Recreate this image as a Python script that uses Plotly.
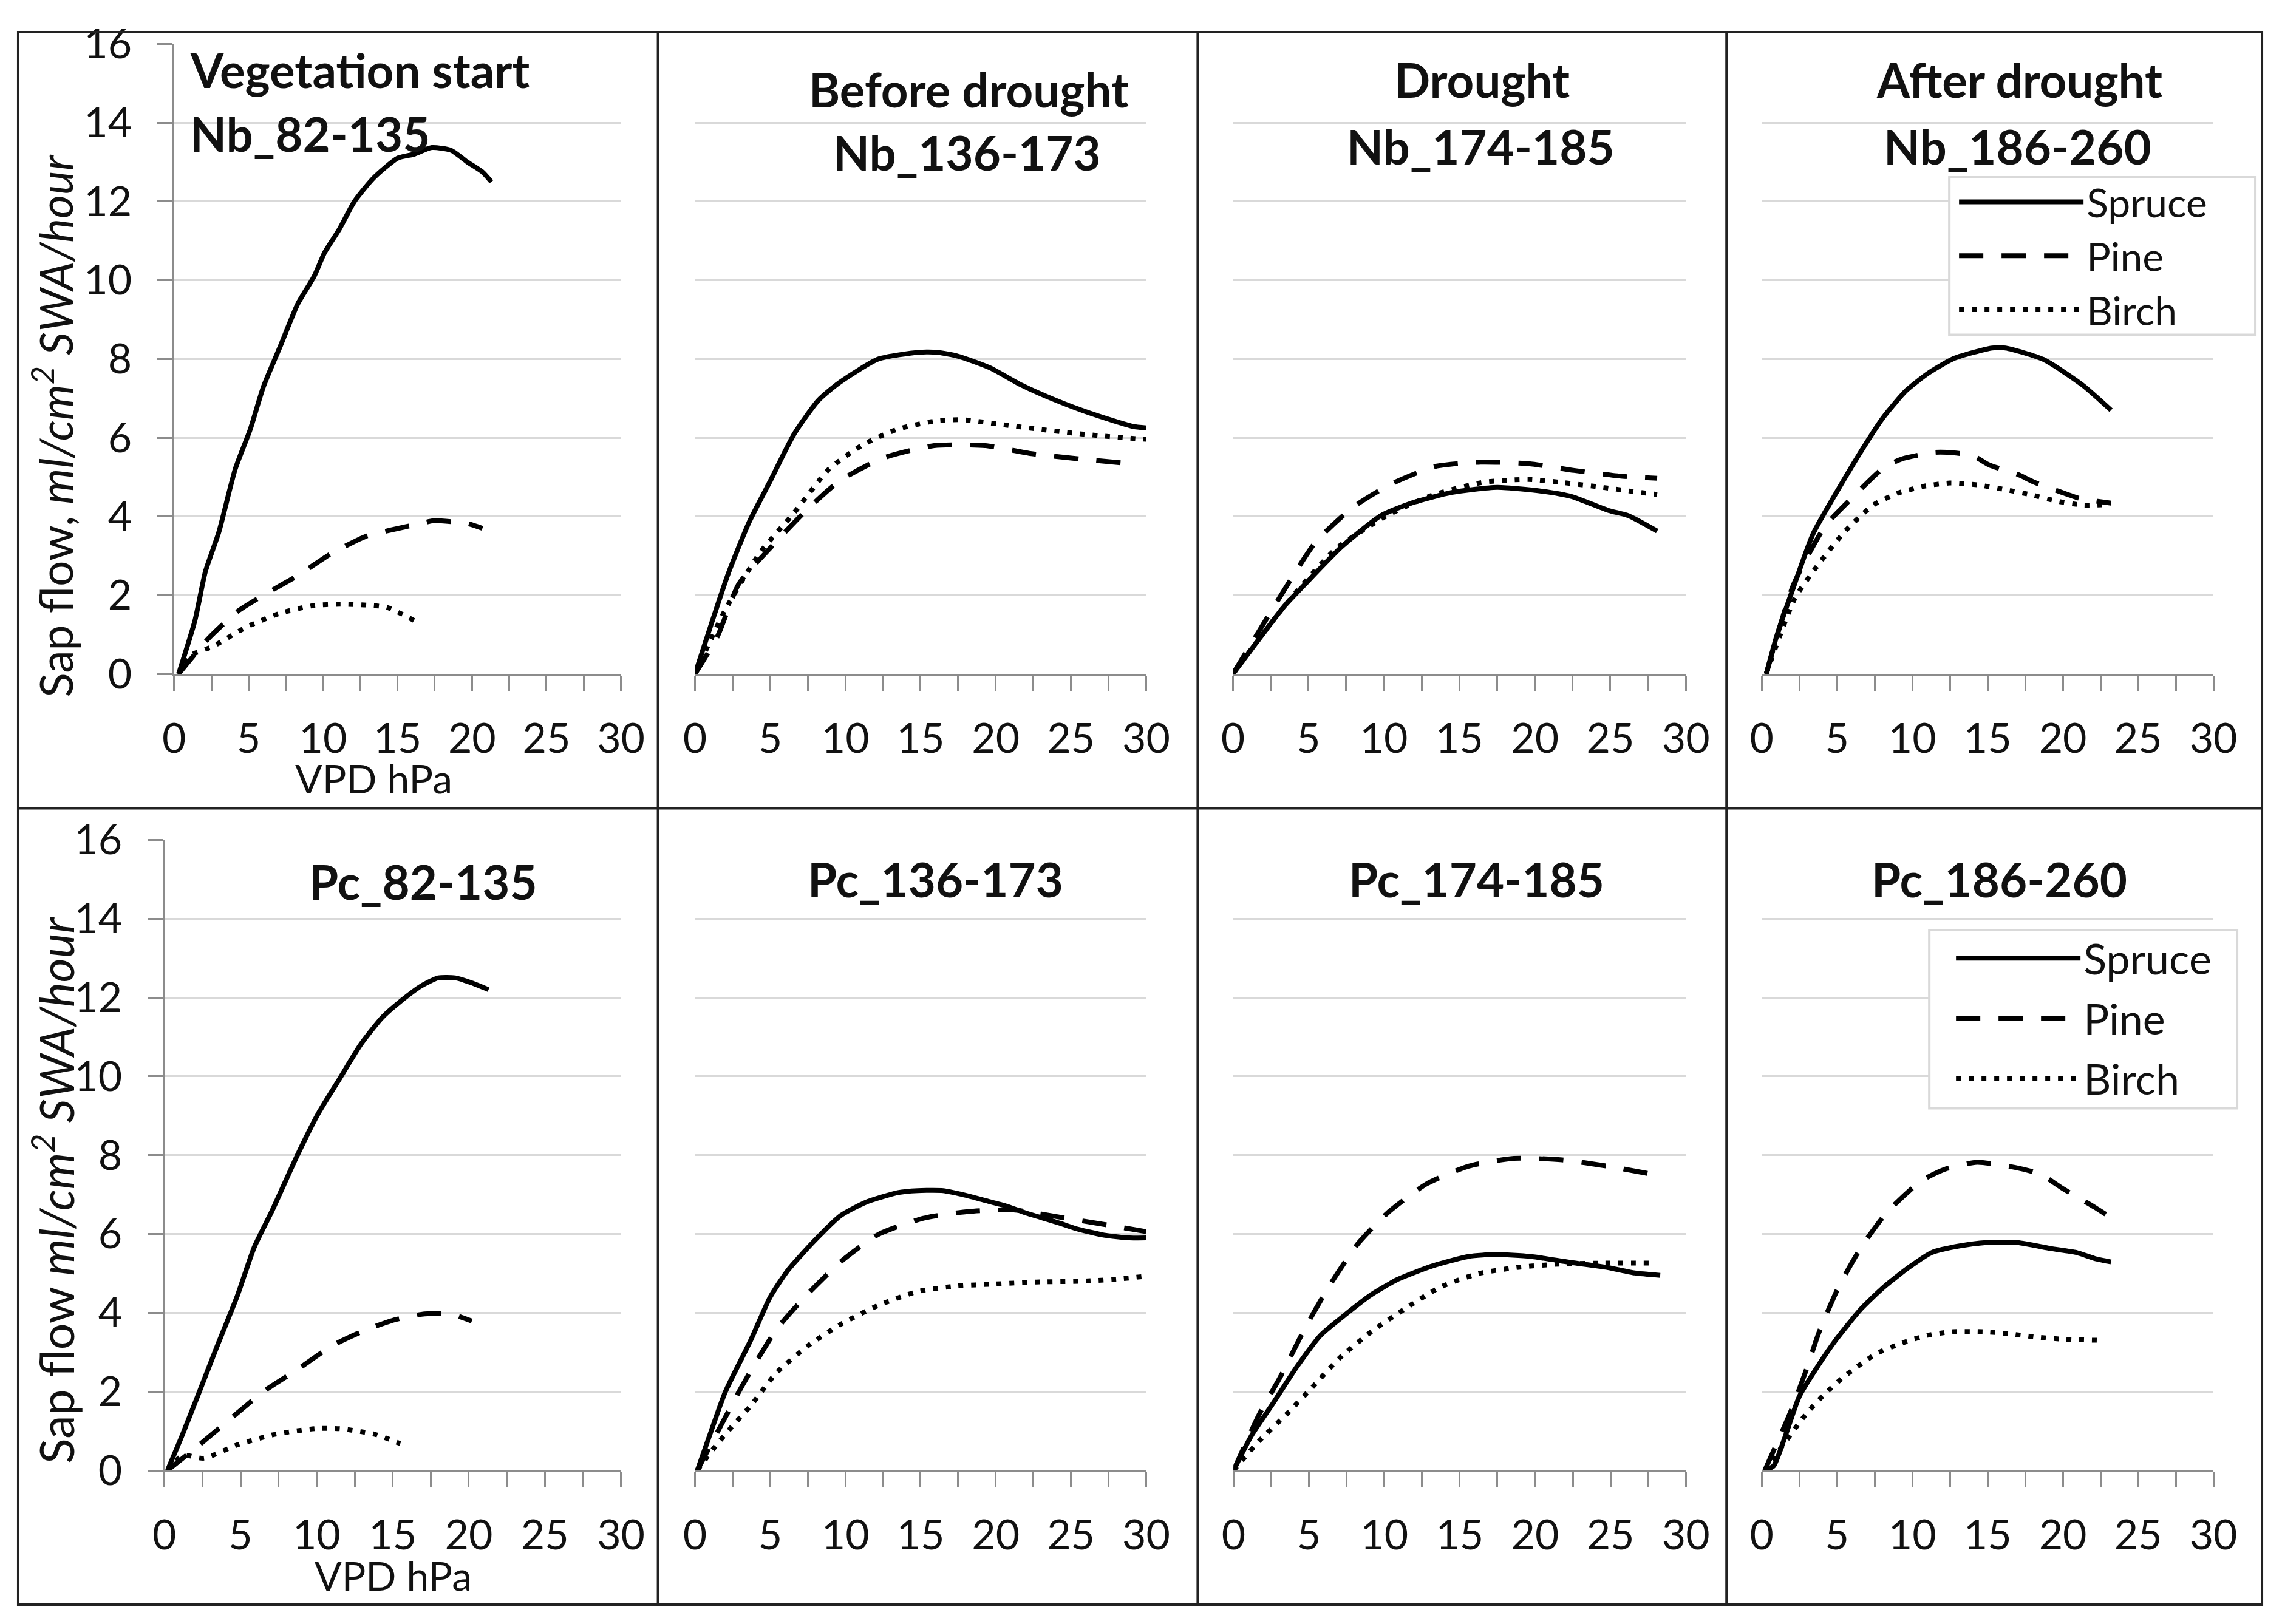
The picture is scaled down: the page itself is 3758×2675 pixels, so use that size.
import plotly.graph_objects as go
from plotly.subplots import make_subplots

W, H = 3758, 2675

# ---------------- data (VPD hPa, sap flow) ----------------
# Panel 1: Nb_82-135 (Vegetation start)
nb1_spruce_x = [0.3, 1.4, 2.1, 3.0, 4.1, 5.1, 6.0, 7.1, 8.3, 9.4, 10.1, 11.1, 12.1, 13.4, 15.0, 16.1, 17.3, 18.6, 19.7, 20.7, 21.3]
nb1_spruce_y = [0, 1.36, 2.6, 3.6, 5.2, 6.2, 7.3, 8.3, 9.4, 10.1, 10.7, 11.3, 12.0, 12.6, 13.1, 13.2, 13.37, 13.3, 13.0, 12.75, 12.5]
nb1_pine_x = [0.3, 2.3, 4.3, 6.0, 8.3, 10.6, 12.9, 14.6, 16.3, 17.4, 18.9, 19.7, 20.7]
nb1_pine_y = [0, 0.9, 1.6, 2.0, 2.5, 3.07, 3.5, 3.66, 3.8, 3.89, 3.86, 3.82, 3.7]
nb1_birch_x = [0.3, 0.9, 2.6, 4.9, 7.1, 9.4, 11.1, 12.9, 14.3, 16.1]
nb1_birch_y = [0, 0.43, 0.7, 1.2, 1.54, 1.74, 1.77, 1.75, 1.69, 1.36]

# Panel 2: Nb_136-173 (Before drought)
nb2_spruce_x = [0, 1.04, 2.2, 3.6, 5.0, 6.6, 8.2, 9.6, 12.2, 14.9, 16.1, 17.5, 19.6, 21.7, 24.0, 26.3, 29.1, 30.0]
nb2_spruce_y = [0, 1.22, 2.54, 3.86, 4.9, 6.1, 6.95, 7.4, 8.0, 8.17, 8.17, 8.07, 7.78, 7.34, 6.95, 6.62, 6.29, 6.25]
nb2_pine_x = [0, 1.5, 2.9, 5.0, 7.3, 9.6, 12.4, 15.9, 19.3, 22.3, 25.6, 29.3]
nb2_pine_y = [0, 0.96, 2.28, 3.2, 4.12, 4.9, 5.47, 5.8, 5.8, 5.6, 5.46, 5.33]
nb2_birch_x = [0, 2.0, 4.3, 6.6, 8.9, 11.2, 13.5, 15.9, 17.7, 20.5, 22.8, 25.1, 27.5, 30.0]
nb2_birch_y = [0, 1.62, 3.07, 4.1, 5.2, 5.83, 6.22, 6.42, 6.46, 6.33, 6.22, 6.12, 6.03, 5.96]

# Panel 3: Nb_174-185 (Drought)
nb3_spruce_x = [0, 1.7, 3.4, 4.7, 7.2, 9.8, 11.9, 14.5, 17.5, 20.5, 22.4, 24.9, 26.2, 28.1]
nb3_spruce_y = [0, 0.87, 1.72, 2.25, 3.23, 4.02, 4.35, 4.61, 4.74, 4.64, 4.51, 4.15, 4.02, 3.63]
nb3_pine_x = [0, 1.7, 3.8, 5.5, 7.9, 10.4, 13.4, 16.4, 19.6, 22.6, 25.8, 28.1]
nb3_pine_y = [0, 1.07, 2.38, 3.36, 4.22, 4.81, 5.27, 5.38, 5.34, 5.17, 5.02, 4.97]
nb3_birch_x = [0, 3.4, 6.8, 10.2, 13.2, 16.6, 19.6, 21.9, 24.5, 26.4, 28.1]
nb3_birch_y = [0, 1.72, 3.17, 4.02, 4.54, 4.87, 4.94, 4.86, 4.74, 4.64, 4.56]

# Panel 4: Nb_186-260 (After drought)
nb4_spruce_x = [0.3, 1.0, 2.1, 3.4, 5.1, 6.8, 8.1, 9.6, 11.1, 12.8, 15.3, 16.2, 18.7, 21.3, 23.2]
nb4_spruce_y = [0, 0.97, 2.19, 3.55, 4.7, 5.78, 6.53, 7.2, 7.65, 8.02, 8.28, 8.28, 7.99, 7.34, 6.7]
nb4_pine_x = [0.3, 2.1, 4.2, 5.7, 8.1, 9.3, 11.5, 12.3, 14.0, 15.1, 17.0, 18.1, 19.8, 21.1, 23.2]
nb4_pine_y = [0, 2.26, 3.75, 4.36, 5.24, 5.46, 5.63, 5.63, 5.55, 5.31, 5.07, 4.87, 4.63, 4.46, 4.34]
nb4_birch_x = [0.3, 2.2, 3.8, 5.5, 7.4, 9.1, 10.8, 12.5, 14.4, 16.2, 17.9, 19.6, 21.3, 23.0]
nb4_birch_y = [0, 1.92, 2.8, 3.61, 4.29, 4.6, 4.77, 4.85, 4.8, 4.68, 4.55, 4.39, 4.29, 4.3]

# Panel 5: Pc_82-135
pc1_spruce_x = [0.2, 1.2, 2.3, 3.4, 4.8, 5.9, 7.1, 8.7, 10.1, 11.5, 12.9, 14.3, 15.5, 16.9, 18.0, 19.1, 20.2, 21.3]
pc1_spruce_y = [0, 0.92, 2.0, 3.09, 4.44, 5.66, 6.61, 7.97, 9.05, 9.93, 10.81, 11.49, 11.9, 12.3, 12.5, 12.5, 12.37, 12.2]
pc1_pine_x = [0.2, 2.3, 4.8, 6.5, 8.7, 11.0, 13.2, 15.2, 17.1, 18.8, 20.2]
pc1_pine_y = [0, 0.65, 1.46, 2.0, 2.55, 3.16, 3.56, 3.83, 3.97, 3.97, 3.79]
pc1_birch_x = [0.2, 1.2, 2.6, 4.8, 7.3, 9.9, 11.5, 13.8, 15.5]
pc1_birch_y = [0, 0.38, 0.31, 0.65, 0.92, 1.06, 1.06, 0.92, 0.68]

# Panel 6: Pc_136-173
pc2_spruce_x = [0.15, 0.9, 2.0, 3.7, 5.0, 6.2, 8.0, 9.7, 11.4, 13.5, 14.8, 16.5, 17.8, 19.3, 20.6, 22.1, 24.2, 25.3, 27.2, 28.9, 30.0]
pc2_spruce_y = [0, 0.81, 1.98, 3.3, 4.4, 5.09, 5.85, 6.47, 6.81, 7.05, 7.1, 7.1, 7.0, 6.85, 6.72, 6.52, 6.28, 6.14, 5.97, 5.9, 5.9]
pc2_pine_x = [0.15, 1.75, 3.2, 5.4, 7.3, 9.7, 12.2, 15.2, 18.2, 21.2, 24.2, 27.4, 30.0]
pc2_pine_y = [0, 1.16, 2.19, 3.57, 4.4, 5.3, 5.99, 6.4, 6.57, 6.61, 6.43, 6.23, 6.06]
pc2_birch_x = [0.15, 1.2, 2.4, 3.7, 5.4, 7.5, 9.7, 12.2, 14.8, 17.4, 19.9, 22.7, 25.5, 28.0, 29.8]
pc2_birch_y = [0, 0.54, 1.09, 1.64, 2.47, 3.16, 3.71, 4.19, 4.54, 4.68, 4.73, 4.78, 4.8, 4.85, 4.92]

# Panel 7: Pc_174-185
pc3_spruce_x = [0, 1.2, 2.6, 4.2, 5.8, 7.5, 9.1, 10.9, 13.2, 15.6, 17.4, 19.7, 22.3, 24.8, 26.6, 28.3]
pc3_spruce_y = [0, 0.89, 1.69, 2.63, 3.44, 3.98, 4.45, 4.85, 5.19, 5.43, 5.48, 5.43, 5.28, 5.15, 5.01, 4.95]
pc3_pine_x = [0, 1.7, 3.1, 4.7, 6.3, 8.2, 10.2, 12.8, 15.6, 18.6, 21.8, 24.8, 28.0]
pc3_pine_y = [0, 1.42, 2.37, 3.58, 4.65, 5.73, 6.53, 7.27, 7.72, 7.92, 7.88, 7.72, 7.5]
pc3_birch_x = [0, 1.7, 3.5, 5.2, 7.0, 9.1, 11.4, 13.7, 16.2, 18.8, 21.3, 24.3, 27.6]
pc3_birch_y = [0, 0.75, 1.42, 2.1, 2.84, 3.51, 4.11, 4.65, 4.99, 5.15, 5.23, 5.26, 5.26]

# Panel 8: Pc_186-260
pc4_spruce_x = [0.2, 0.8, 1.5, 2.5, 3.8, 4.9, 6.6, 8.1, 9.8, 11.3, 13.2, 14.9, 17.0, 19.2, 20.9, 22.1, 23.2]
pc4_spruce_y = [0, 0.12, 0.8, 1.88, 2.69, 3.3, 4.1, 4.65, 5.16, 5.53, 5.7, 5.78, 5.78, 5.63, 5.53, 5.38, 5.29]
pc4_pine_x = [0.2, 1.9, 2.9, 3.8, 5.1, 6.6, 8.3, 10.6, 12.3, 14.3, 16.8, 18.5, 20.0, 22.1, 23.2]
pc4_pine_y = [0, 1.47, 2.49, 3.5, 4.65, 5.66, 6.54, 7.35, 7.66, 7.82, 7.69, 7.52, 7.15, 6.68, 6.41]
pc4_birch_x = [0.2, 2.9, 4.1, 5.5, 7.6, 9.3, 11.0, 12.7, 14.7, 16.4, 18.1, 20.0, 22.6]
pc4_birch_y = [0, 1.41, 1.91, 2.39, 2.96, 3.23, 3.43, 3.52, 3.52, 3.47, 3.39, 3.33, 3.3]

species = ["Spruce", "Pine", "Birch"]
panel_titles = [
    ["Vegetation start", "Nb_82-135"],
    ["Before drought", "Nb_136-173"],
    ["Drought", "Nb_174-185"],
    ["After drought", "Nb_186-260"],
    ["Pc_82-135"],
    ["Pc_136-173"],
    ["Pc_174-185"],
    ["Pc_186-260"],
]
x_ticks = [0, 5, 10, 15, 20, 25, 30]
y_ticks = [0, 2, 4, 6, 8, 10, 12, 14, 16]
x_label = "VPD hPa"
y_label_top = "Sap flow, <i>ml/cm<sup>2</sup> SWA/hour</i>"
y_label_bottom = "Sap flow <i>ml/cm<sup>2</sup> SWA/hour</i>"

panels = [
    [(nb1_spruce_x, nb1_spruce_y), (nb1_pine_x, nb1_pine_y), (nb1_birch_x, nb1_birch_y)],
    [(nb2_spruce_x, nb2_spruce_y), (nb2_pine_x, nb2_pine_y), (nb2_birch_x, nb2_birch_y)],
    [(nb3_spruce_x, nb3_spruce_y), (nb3_pine_x, nb3_pine_y), (nb3_birch_x, nb3_birch_y)],
    [(nb4_spruce_x, nb4_spruce_y), (nb4_pine_x, nb4_pine_y), (nb4_birch_x, nb4_birch_y)],
    [(pc1_spruce_x, pc1_spruce_y), (pc1_pine_x, pc1_pine_y), (pc1_birch_x, pc1_birch_y)],
    [(pc2_spruce_x, pc2_spruce_y), (pc2_pine_x, pc2_pine_y), (pc2_birch_x, pc2_birch_y)],
    [(pc3_spruce_x, pc3_spruce_y), (pc3_pine_x, pc3_pine_y), (pc3_birch_x, pc3_birch_y)],
    [(pc4_spruce_x, pc4_spruce_y), (pc4_pine_x, pc4_pine_y), (pc4_birch_x, pc4_birch_y)],
]

# ---------------- styling ----------------
FONT = "Lato"
LW = 8
dash_styles = ["solid", "40px,30px", "8px,13px"]
GRID = "#d9d9d9"
AXIS = "#8c8c8c"
TXT = "#111111"

# placement helpers: target pixel position -> paper fraction (with small framing correction)
def fx(v):
    return min(max((v - 29.2) / 0.9845, 2), W - 2) / W

def fy(v):
    return 1 - min(max((v - 48.4) / 0.972, 2), H - 2) / H

fig = make_subplots(rows=2, cols=4)

for p, series in enumerate(panels):
    r, c = p // 4 + 1, p % 4 + 1
    for s, (xs, ys) in enumerate(series):
        kw = dict(showlegend=False)
        if p == 3:
            kw = dict(showlegend=True, legend="legend")
        elif p == 7:
            kw = dict(showlegend=True, legend="legend2", legendgroup=f"b{s}")
        fig.add_trace(go.Scatter(
            x=xs, y=ys, mode="lines", name=species[s],
            line=dict(color="black", width=LW, dash=dash_styles[s], shape="spline", smoothing=0.6),
            **kw), row=r, col=c)

col_top = [(288, 1024), (1146, 1889), (2032, 2778), (2903, 3647)]
col_bot = [(272, 1024), (1146, 1889), (2033, 2778), (2903, 3647)]
row_px = [(70, 1110), (1384, 2425)]

for p in range(8):
    r, c = p // 4, p % 4
    cols = col_top if r == 0 else col_bot
    x0, x1 = cols[c]
    y0, y1 = row_px[r]
    ax = "" if p == 0 else str(p + 1)
    fig.layout["xaxis" + ax].update(
        domain=[fx(x0), fx(x1)], range=[0, 30], tickvals=x_ticks,
        showgrid=False, zeroline=False, showline=True, linecolor=AXIS, linewidth=3,
        ticks="outside", ticklen=25, tickwidth=3, tickcolor=AXIS,
        minor=dict(dtick=2.5, tick0=0, ticks="outside", ticklen=25, tickwidth=3, tickcolor=AXIS, showgrid=False),
        tickfont=dict(family=FONT, size=68, color=TXT), ticklabelstandoff=20,
        fixedrange=True)
    first = (c == 0)
    fig.layout["yaxis" + ax].update(
        domain=[fy(y1), fy(y0)], range=[0, 16], tickvals=y_ticks,
        showgrid=True, gridcolor=GRID, gridwidth=3, zeroline=False,
        showline=first, linecolor=AXIS, linewidth=3,
        ticks="outside" if first else "", ticklen=25, tickwidth=3, tickcolor=AXIS,
        showticklabels=first, tickfont=dict(family=FONT, size=68, color=TXT),
        ticklabelstandoff=28, fixedrange=True)

# panel titles (positions in each panel's data space)
title_pos = [
    [(1.0, 15.35, "left"), (1.0, 13.72, "left")],
    [(18.2, 14.85, "center"), (18.1, 13.25, "center")],
    [(16.5, 15.1, "center"), (16.4, 13.4, "center")],
    [(17.1, 15.1, "center"), (17.0, 13.4, "center")],
    [(17.0, 14.95, "center")],
    [(16.0, 15.0, "center")],
    [(16.1, 15.0, "center")],
    [(15.8, 15.0, "center")],
]
for p in range(8):
    ax = "" if p == 0 else str(p + 1)
    for (tx, ty, anc), txt in zip(title_pos[p], panel_titles[p]):
        fig.add_annotation(x=tx, y=ty, xref="x" + ax, yref="y" + ax, text="<b>" + txt + "</b>",
                           showarrow=False, xanchor=anc, yanchor="middle",
                           font=dict(family=FONT, size=78, color=TXT))

# axis titles
fig.add_annotation(x=fx(617), y=fy(1282), xref="paper", yref="paper", text=x_label, showarrow=False,
                   xanchor="center", yanchor="middle", font=dict(family=FONT, size=66, color=TXT))
fig.add_annotation(x=fx(649), y=fy(2598), xref="paper", yref="paper", text=x_label, showarrow=False,
                   xanchor="center", yanchor="middle", font=dict(family=FONT, size=66, color=TXT))
fig.add_annotation(x=fx(88), y=fy(700), xref="paper", yref="paper", text=y_label_top, showarrow=False,
                   textangle=-90, xanchor="center", yanchor="middle", font=dict(family=FONT, size=75, color=TXT))
fig.add_annotation(x=fx(88), y=fy(1962), xref="paper", yref="paper", text=y_label_bottom, showarrow=False,
                   textangle=-90, xanchor="center", yanchor="middle", font=dict(family=FONT, size=77, color=TXT))

# panel borders
border = dict(color="#222222", width=4)
fig.add_shape(type="rect", xref="paper", yref="paper", x0=fx(25), x1=fx(3735), y0=fy(2655), y1=fy(19), line=border)
for xv in (1085, 1974, 2845):
    fig.add_shape(type="line", xref="paper", yref="paper", x0=fx(xv), x1=fx(xv), y0=fy(2655), y1=fy(19), line=border)
fig.add_shape(type="line", xref="paper", yref="paper", x0=fx(25), x1=fx(3735), y0=fy(1332), y1=fy(1332), line=border)

# legend frames (white boxes that hide the gridlines behind the legends)
for (lx0, ly0, lx1, ly1) in [(3212, 290, 3716, 550), (3179, 1533, 3686, 1827)]:
    fig.add_shape(type="rect", xref="paper", yref="paper", layer="above",
                  x0=fx(lx0), x1=fx(lx1), y0=fy(ly1), y1=fy(ly0),
                  fillcolor="white", line=dict(color="#d9d9d9", width=4))

legend_common = dict(bgcolor="rgba(0,0,0,0)", borderwidth=0, itemwidth=205,
                     xanchor="left", yanchor="top", itemclick=False, itemdoubleclick=False)
fig.update_layout(
    width=W, height=H, margin=dict(l=0, r=0, t=0, b=0),
    paper_bgcolor="white", plot_bgcolor="white",
    legend=dict(x=fx(3223), y=fy(281), font=dict(family=FONT, size=66, color=TXT), **legend_common),
    legend2=dict(x=fx(3218), y=fy(1527), font=dict(family=FONT, size=70, color=TXT), tracegroupgap=5, **legend_common),
)

fig.write_html("out.html")
